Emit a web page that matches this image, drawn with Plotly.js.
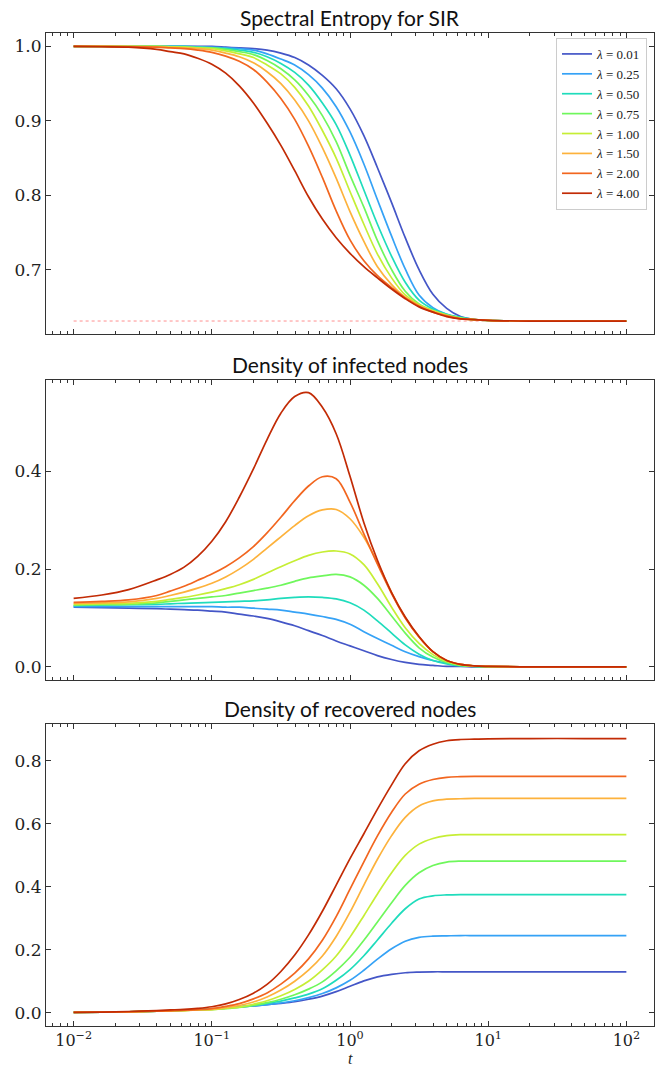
<!DOCTYPE html>
<html><head><meta charset="utf-8">
<script src="https://cdn.plot.ly/plotly-3.0.1.min.js"></script>
<style>html,body{margin:0;padding:0;background:#fff}#chart{width:664px;height:1068px}</style>
</head><body><div id="chart"></div>
<script>
// time samples (log-spaced reading points)
const t = [0.01, 0.016, 0.025, 0.04, 0.05, 0.063, 0.079, 0.1, 0.126, 0.158, 0.2, 0.251, 0.316, 0.398, 0.501, 0.631, 0.794, 1.0, 1.26, 1.58, 2.0, 2.51, 3.16, 3.98, 5.01, 6.31, 7.94, 10, 20, 50, 100];

const lambdaLabels = ['0.01', '0.25', '0.50', '0.75', '1.00', '1.50', '2.00', '4.00'];
const lineColors = ['#4456c7', '#35a2f6', '#1fdcbc', '#6ff75c', '#c6ee35', '#fdb23c', '#f2661f', '#c22b05'];

// Spectral entropy
const H_001 = [1.0, 1.0, 1.0, 1.0, 1.0, 1.0, 1.0, 1.0, 0.999, 0.998, 0.997, 0.995, 0.991, 0.985, 0.975, 0.961, 0.943, 0.916, 0.880, 0.837, 0.790, 0.743, 0.700, 0.667, 0.648, 0.637, 0.633, 0.632, 0.631, 0.631, 0.631];
const H_025 = [1.0, 1.0, 1.0, 1.0, 1.0, 1.0, 0.9995, 0.999, 0.998, 0.997, 0.995, 0.990, 0.983, 0.975, 0.962, 0.944, 0.919, 0.885, 0.842, 0.794, 0.745, 0.701, 0.666, 0.649, 0.640, 0.635, 0.633, 0.632, 0.631, 0.631, 0.631];
const H_050 = [1.0, 1.0, 1.0, 1.0, 1.0, 1.0, 0.999, 0.998, 0.997, 0.995, 0.992, 0.986, 0.977, 0.965, 0.948, 0.924, 0.895, 0.854, 0.807, 0.761, 0.718, 0.683, 0.659, 0.647, 0.640, 0.636, 0.633, 0.632, 0.631, 0.631, 0.631];
const H_075 = [1.0, 1.0, 1.0, 1.0, 0.9995, 0.999, 0.9985, 0.998, 0.996, 0.993, 0.989, 0.981, 0.970, 0.955, 0.934, 0.907, 0.872, 0.827, 0.784, 0.739, 0.700, 0.671, 0.654, 0.645, 0.639, 0.635, 0.633, 0.632, 0.631, 0.631, 0.631];
const H_100 = [1.0, 1.0, 1.0, 1.0, 0.9995, 0.999, 0.998, 0.997, 0.994, 0.990, 0.985, 0.975, 0.963, 0.945, 0.920, 0.887, 0.850, 0.805, 0.761, 0.721, 0.689, 0.666, 0.653, 0.645, 0.639, 0.635, 0.633, 0.632, 0.631, 0.631, 0.631];
const H_150 = [1.0, 1.0, 1.0, 0.999, 0.9985, 0.998, 0.997, 0.995, 0.991, 0.986, 0.978, 0.966, 0.950, 0.928, 0.900, 0.864, 0.823, 0.778, 0.738, 0.704, 0.680, 0.663, 0.652, 0.644, 0.638, 0.634, 0.633, 0.632, 0.631, 0.631, 0.631];
const H_200 = [1.0, 1.0, 0.9995, 0.999, 0.998, 0.997, 0.995, 0.992, 0.987, 0.980, 0.969, 0.952, 0.930, 0.902, 0.866, 0.824, 0.779, 0.740, 0.712, 0.692, 0.676, 0.662, 0.651, 0.643, 0.638, 0.634, 0.633, 0.632, 0.631, 0.631, 0.631];
const H_400 = [1.0, 0.9995, 0.999, 0.996, 0.993, 0.990, 0.984, 0.976, 0.964, 0.947, 0.924, 0.897, 0.867, 0.833, 0.798, 0.768, 0.743, 0.722, 0.704, 0.689, 0.674, 0.661, 0.650, 0.643, 0.637, 0.634, 0.633, 0.632, 0.631, 0.631, 0.631];
const entropyLimit = 0.631;

// Density of infected nodes
const I_001 = [0.122, 0.121, 0.120, 0.119, 0.118, 0.117, 0.116, 0.114, 0.112, 0.108, 0.104, 0.099, 0.092, 0.084, 0.074, 0.064, 0.053, 0.043, 0.033, 0.023, 0.015, 0.009, 0.005, 0.003, 0.001, 0.001, 0, 0, 0, 0, 0];
const I_025 = [0.123, 0.123, 0.123, 0.123, 0.123, 0.123, 0.123, 0.123, 0.122, 0.122, 0.120, 0.118, 0.116, 0.112, 0.108, 0.103, 0.097, 0.087, 0.072, 0.058, 0.044, 0.031, 0.021, 0.013, 0.008, 0.004, 0.002, 0.001, 0, 0, 0];
const I_050 = [0.125, 0.126, 0.127, 0.128, 0.129, 0.130, 0.131, 0.132, 0.133, 0.134, 0.135, 0.137, 0.140, 0.142, 0.143, 0.142, 0.139, 0.131, 0.116, 0.094, 0.069, 0.045, 0.026, 0.013, 0.006, 0.002, 0.001, 0, 0, 0, 0];
const I_075 = [0.126, 0.127, 0.128, 0.131, 0.134, 0.137, 0.140, 0.143, 0.146, 0.151, 0.156, 0.161, 0.167, 0.175, 0.182, 0.186, 0.189, 0.184, 0.167, 0.140, 0.104, 0.069, 0.039, 0.020, 0.009, 0.003, 0.001, 0, 0, 0, 0];
const I_100 = [0.128, 0.129, 0.130, 0.134, 0.138, 0.142, 0.147, 0.153, 0.160, 0.168, 0.179, 0.192, 0.205, 0.217, 0.228, 0.235, 0.237, 0.231, 0.209, 0.170, 0.122, 0.080, 0.048, 0.025, 0.011, 0.004, 0.002, 0.001, 0, 0, 0];
const I_150 = [0.130, 0.131, 0.133, 0.140, 0.146, 0.153, 0.161, 0.171, 0.184, 0.200, 0.220, 0.243, 0.266, 0.289, 0.309, 0.321, 0.322, 0.303, 0.265, 0.213, 0.152, 0.101, 0.061, 0.031, 0.013, 0.005, 0.002, 0.001, 0, 0, 0];
const I_200 = [0.132, 0.134, 0.137, 0.146, 0.155, 0.165, 0.177, 0.190, 0.205, 0.223, 0.246, 0.274, 0.306, 0.340, 0.370, 0.389, 0.385, 0.337, 0.272, 0.210, 0.150, 0.100, 0.061, 0.031, 0.013, 0.005, 0.002, 0.001, 0, 0, 0];
const I_400 = [0.140, 0.147, 0.158, 0.178, 0.189, 0.204, 0.226, 0.257, 0.297, 0.347, 0.405, 0.465, 0.519, 0.553, 0.561, 0.531, 0.477, 0.390, 0.295, 0.218, 0.152, 0.102, 0.062, 0.031, 0.013, 0.005, 0.002, 0.001, 0, 0, 0];

// Density of recovered nodes
const R_001 = [0.001, 0.002, 0.003, 0.005, 0.006, 0.008, 0.010, 0.012, 0.015, 0.018, 0.022, 0.026, 0.030, 0.035, 0.043, 0.053, 0.067, 0.084, 0.101, 0.114, 0.122, 0.127, 0.129, 0.130, 0.130, 0.130, 0.130, 0.130, 0.130, 0.130, 0.130];
const R_025 = [0.001, 0.002, 0.003, 0.005, 0.006, 0.008, 0.010, 0.012, 0.015, 0.019, 0.022, 0.026, 0.031, 0.038, 0.048, 0.061, 0.079, 0.103, 0.135, 0.170, 0.203, 0.227, 0.239, 0.243, 0.244, 0.245, 0.245, 0.245, 0.245, 0.245, 0.245];
const R_050 = [0.001, 0.002, 0.003, 0.005, 0.006, 0.008, 0.010, 0.012, 0.015, 0.019, 0.024, 0.030, 0.037, 0.047, 0.059, 0.076, 0.103, 0.137, 0.181, 0.231, 0.284, 0.330, 0.361, 0.371, 0.374, 0.375, 0.375, 0.375, 0.375, 0.375, 0.375];
const R_075 = [0.001, 0.002, 0.003, 0.005, 0.006, 0.007, 0.009, 0.010, 0.013, 0.017, 0.023, 0.032, 0.043, 0.057, 0.075, 0.098, 0.133, 0.176, 0.230, 0.288, 0.349, 0.404, 0.444, 0.467, 0.478, 0.481, 0.481, 0.481, 0.481, 0.481, 0.481];
const R_100 = [0.001, 0.002, 0.003, 0.005, 0.006, 0.007, 0.009, 0.010, 0.014, 0.018, 0.027, 0.038, 0.054, 0.074, 0.100, 0.136, 0.180, 0.240, 0.308, 0.377, 0.444, 0.499, 0.535, 0.553, 0.562, 0.565, 0.565, 0.565, 0.565, 0.565, 0.565];
const R_150 = [0.001, 0.002, 0.003, 0.005, 0.006, 0.007, 0.009, 0.011, 0.016, 0.023, 0.034, 0.050, 0.072, 0.100, 0.135, 0.180, 0.242, 0.319, 0.405, 0.487, 0.562, 0.620, 0.656, 0.672, 0.678, 0.679, 0.680, 0.680, 0.680, 0.680, 0.680];
const R_200 = [0.001, 0.002, 0.003, 0.005, 0.006, 0.008, 0.010, 0.013, 0.020, 0.029, 0.044, 0.063, 0.091, 0.126, 0.171, 0.230, 0.305, 0.392, 0.479, 0.561, 0.636, 0.694, 0.725, 0.740, 0.747, 0.749, 0.750, 0.750, 0.750, 0.750, 0.750];
const R_400 = [0.001, 0.002, 0.004, 0.007, 0.009, 0.011, 0.014, 0.019, 0.028, 0.042, 0.062, 0.090, 0.131, 0.183, 0.247, 0.322, 0.405, 0.489, 0.568, 0.646, 0.723, 0.790, 0.831, 0.852, 0.863, 0.867, 0.868, 0.869, 0.870, 0.870, 0.870];

// axis ticks
const xTickVals = [0.01, 0.1, 1, 10, 100];
const xTickText = ['10<sup>−2</sup>', '10<sup>−1</sup>', '10<sup>0</sup>', '10<sup>1</sup>', '10<sup>2</sup>'];
const xMinorDigits = [2, 3, 4, 5, 6, 7, 8, 9];
const xMinorDecades = [0.001, 0.01, 0.1, 1, 10, 100];
const y1Ticks = [0.7, 0.8, 0.9, 1.0];
const y2Ticks = [0.0, 0.2, 0.4];
const y3Ticks = [0.0, 0.2, 0.4, 0.6, 0.8];
const panelTitles = ['Spectral Entropy for SIR', 'Density of infected nodes', 'Density of recovered nodes'];

const Hs = [H_001, H_025, H_050, H_075, H_100, H_150, H_200, H_400];
const Is = [I_001, I_025, I_050, I_075, I_100, I_150, I_200, I_400];
const Rs = [R_001, R_025, R_050, R_075, R_100, R_150, R_200, R_400];

const minorVals = [];
xMinorDecades.forEach(d => xMinorDigits.forEach(k => minorVals.push(+(d * k).toPrecision(3))));

const traces = [];
function addPanel(series, xa, ya, legend) {
  series.forEach((ys, i) => {
    traces.push({
      x: t, y: ys, xaxis: xa, yaxis: ya, type: 'scatter', mode: 'lines',
      name: '<i>λ</i> = ' + lambdaLabels[i],
      showlegend: legend,
      line: {color: lineColors[i], width: 1.7, shape: 'spline', smoothing: 1},
      hoverinfo: 'skip'
    });
  });
}
// reference line for entropy limit
traces.push({
  x: [t[0], t[t.length - 1]], y: [entropyLimit, entropyLimit], xaxis: 'x', yaxis: 'y',
  type: 'scatter', mode: 'lines', showlegend: false,
  line: {color: 'rgba(255,70,70,0.6)', width: 1, dash: 'dot'}, hoverinfo: 'skip'
});
addPanel(Hs, 'x', 'y', true);
addPanel(Is, 'x2', 'y2', false);
addPanel(Rs, 'x3', 'y3', false);

const SERIF = 'Liberation Serif';
const TICKSERIF = 'DejaVu Serif';
function axBase() {
  return {
    showline: true, mirror: 'allticks', linecolor: '#333', linewidth: 1,
    ticks: 'inside', ticklen: 5, tickwidth: 1, tickcolor: '#333',
    showgrid: false, zeroline: false, tickfont: {family: TICKSERIF, size: 17, color: '#222'}
  };
}
function xAxis(anchor, labels) {
  return Object.assign(axBase(), {
    type: 'log', range: [-2.2, 2.2], anchor: anchor, domain: [0, 1],
    tickmode: 'array', tickvals: xTickVals, ticktext: xTickText,
    showticklabels: labels, ticklabelstandoff: 0,
    tickfont: {family: TICKSERIF, size: 16, color: '#222'},
    minor: {tickmode: 'array', tickvals: minorVals, ticks: 'inside', ticklen: 3, tickcolor: '#333', showgrid: false}
  });
}
function yAxis(anchor, domain, range, ticks) {
  return Object.assign(axBase(), {
    anchor: anchor, domain: domain, range: range,
    tickmode: 'array', tickvals: ticks, tickformat: '.1f'
  });
}
const titleFont = {family: 'Lato', size: 21, color: '#111'};

const layout = {
  width: 664, height: 1068,
  margin: {l: 46, r: 10, t: 33, b: 42},
  font: {family: SERIF, size: 14, color: '#222'},
  paper_bgcolor: '#fff', plot_bgcolor: '#fff',
  showlegend: true,
  legend: {
    x: 0.9885, xanchor: 'right', y: 0.995, yanchor: 'top',
    bgcolor: 'rgba(255,255,255,0.9)', bordercolor: '#cccccc', borderwidth: 1,
    font: {family: SERIF, size: 13, color: '#222'},
    itemwidth: 30, tracegroupgap: 0
  },
  xaxis: xAxis('y', false),
  xaxis2: xAxis('y2', false),
  xaxis3: xAxis('y3', true),
  yaxis: yAxis('x', [0.6969, 1], [0.6136, 1.018], y1Ticks),
  yaxis2: yAxis('x2', [0.3484, 0.6506], [-0.027, 0.587], y2Ticks),
  yaxis3: yAxis('x3', [0, 0.3041], [-0.042, 0.916], y3Ticks),
  annotations: [
    {text: panelTitles[0], xref: 'paper', yref: 'paper', x: 0.5, y: 1, yanchor: 'bottom', yshift: 1, showarrow: false, font: titleFont},
    {text: panelTitles[1], xref: 'paper', yref: 'paper', x: 0.5, y: 0.6506, yanchor: 'bottom', yshift: 1, showarrow: false, font: titleFont},
    {text: panelTitles[2], xref: 'paper', yref: 'paper', x: 0.5, y: 0.3041, yanchor: 'bottom', yshift: 1, showarrow: false, font: titleFont},
    {text: '<i>t</i>', xref: 'paper', yref: 'paper', x: 0.5, y: 0, yanchor: 'middle', yshift: -32, borderpad: 0, showarrow: false, font: {family: SERIF, size: 16, color: '#222'}}
  ]
};

Plotly.newPlot('chart', traces, layout, {staticPlot: true, displayModeBar: false});
</script>
</body></html>
